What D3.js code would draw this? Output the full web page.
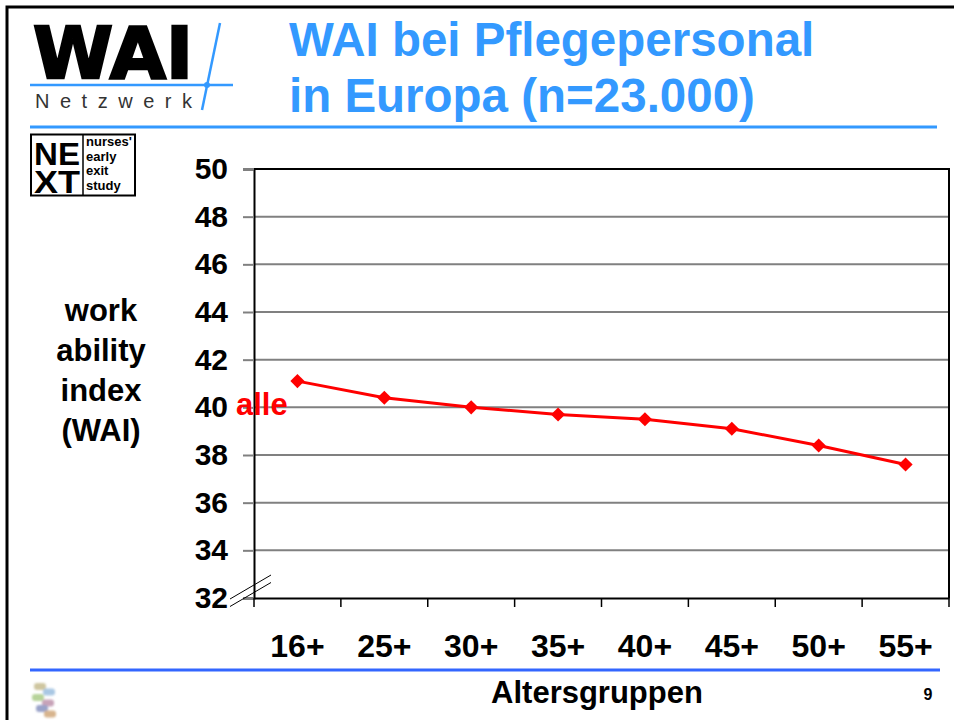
<!DOCTYPE html>
<html lang="de">
  <head>
    <meta charset="utf-8" />
    <title>WAI bei Pflegepersonal in Europa</title>
    <style>
      body {
        margin: 0;
        background: #fff;
      }
      svg {
        display: block;
        font-family: Arial, "Liberation Sans", sans-serif;
      }
      .grid line {
        stroke: #808080;
        stroke-width: 2px;
      }
      .tick text {
        font-weight: bold;
      }
    </style>
  </head>
  <body>
    <svg width="954" height="720"></svg>

    <script src="https://d3js.org/d3.v7.min.js"></script>
    <script>
      // chart data
      const ageGroups = ["16+", "25+", "30+", "35+", "40+", "45+", "50+", "55+"];
      const waiAll = [41.1, 40.4, 40.0, 39.7, 39.5, 39.1, 38.4, 37.6];
      const yTicks = [32, 34, 36, 38, 40, 42, 44, 46, 48, 50];
      const yTitle = ["work", "ability", "index", "(WAI)"];
      const seriesName = "alle";

      const svg = d3.select("svg");
      const blue = "#3399ff";

      // plot area
      const plotL = 254,
        plotR = 949,
        plotT = 169,
        plotB = 598;

      const x = d3.scaleBand().domain(ageGroups).range([plotL, plotR]);
      const y = d3.scaleLinear().domain([32, 50]).range([plotB, plotT]);

      // slide frame
      svg
        .append("rect")
        .attr("x", 7)
        .attr("y", 7)
        .attr("width", 980)
        .attr("height", 740)
        .attr("fill", "none")
        .attr("stroke", "#000")
        .attr("stroke-width", 3);

      // --- header: WAI Netzwerk logo ---
      const logo = svg.append("g");
      logo
        .append("text")
        .attr("x", 33)
        .attr("y", 78)
        .attr("font-family", "DejaVu Sans, sans-serif")
        .attr("font-weight", "bold")
        .attr("font-size", 71)
        .attr("stroke", "#000")
        .attr("stroke-width", 2.5)
        .attr("textLength", 160)
        .attr("lengthAdjust", "spacingAndGlyphs")
        .text("WAI");
      logo
        .append("line")
        .attr("x1", 30)
        .attr("x2", 233)
        .attr("y1", 85)
        .attr("y2", 85)
        .attr("stroke", blue)
        .attr("stroke-width", 2.5);
      logo
        .append("line")
        .attr("x1", 220)
        .attr("y1", 23)
        .attr("x2", 202)
        .attr("y2", 110)
        .attr("stroke", blue)
        .attr("stroke-width", 2.5);
      logo
        .append("circle")
        .attr("cx", 207)
        .attr("cy", 85)
        .attr("r", 3)
        .attr("fill", blue);
      logo
        .append("text")
        .attr("x", 35)
        .attr("y", 108)
        .attr("font-size", 20)
        .attr("fill", "#333")
        .attr("textLength", 157)
        .attr("lengthAdjust", "spacing")
        .text("Netzwerk");

      // title
      svg
        .append("g")
        .attr("fill", blue)
        .attr("font-weight", "bold")
        .attr("font-size", 47.5)
        .selectAll("text")
        .data(["WAI bei Pflegepersonal", "in Europa (n=23.000)"])
        .join("text")
        .attr("x", 289)
        .attr("y", (d, i) => 56 + i * 56)
        .text((d) => d);

      svg
        .append("line")
        .attr("x1", 30)
        .attr("x2", 937)
        .attr("y1", 127)
        .attr("y2", 127)
        .attr("stroke", blue)
        .attr("stroke-width", 3);

      // NEXT logo box
      const next = svg.append("g");
      next
        .append("rect")
        .attr("x", 31)
        .attr("y", 134.5)
        .attr("width", 104)
        .attr("height", 61)
        .attr("fill", "none")
        .attr("stroke", "#000")
        .attr("stroke-width", 2);
      next
        .append("line")
        .attr("x1", 83)
        .attr("x2", 83)
        .attr("y1", 134.5)
        .attr("y2", 195.5)
        .attr("stroke", "#000")
        .attr("stroke-width", 1.5);
      next
        .selectAll("text.big")
        .data(["NE", "XT"])
        .join("text")
        .attr("class", "big")
        .attr("x", 34)
        .attr("y", (d, i) => 165 + i * 28)
        .attr("font-weight", "bold")
        .attr("font-size", 31)
        .attr("textLength", 46)
        .attr("lengthAdjust", "spacingAndGlyphs")
        .text((d) => d);
      next
        .selectAll("text.small")
        .data(["nurses'", "early", "exit", "study"])
        .join("text")
        .attr("class", "small")
        .attr("x", 86)
        .attr("y", (d, i) => 146 + i * 14.5)
        .attr("font-weight", "bold")
        .attr("font-size", 13)
        .text((d) => d);

      // --- chart ---
      // horizontal gridlines
      svg
        .append("g")
        .attr("class", "grid")
        .selectAll("line")
        .data(yTicks.filter((t) => t > 32 && t < 50))
        .join("line")
        .attr("x1", plotL)
        .attr("x2", plotR)
        .attr("y1", (d) => y(d))
        .attr("y2", (d) => y(d));

      // top + right frame of the plot
      svg
        .append("path")
        .attr("d", `M${plotL},${plotT}H${plotR}V${plotB}`)
        .attr("fill", "none")
        .attr("stroke", "#000")
        .attr("stroke-width", 2);

      // y axis
      const yAxis = svg
        .append("g")
        .attr("transform", `translate(${plotL},0)`)
        .call(
          d3.axisLeft(y).tickValues(yTicks).tickSize(11).tickPadding(15)
        );
      yAxis.select(".domain").attr("stroke", "#000").attr("stroke-width", 2);
      yAxis.selectAll(".tick line").attr("stroke", "#808080").attr("stroke-width", 2);
      yAxis
        .selectAll(".tick text")
        .attr("font-size", 30)
        .attr("font-family", "Arial, Liberation Sans, sans-serif")
        .attr("fill", "#000");

      // x axis: labels centred on bands, ticks on band edges
      const xAxis = svg
        .append("g")
        .attr("transform", `translate(0,${plotB})`)
        .call(d3.axisBottom(x).tickSize(0).tickPadding(36));
      xAxis.select(".domain").attr("stroke", "#000").attr("stroke-width", 2);
      xAxis
        .selectAll(".tick text")
        .attr("font-size", 32)
        .attr("font-family", "Arial, Liberation Sans, sans-serif")
        .attr("fill", "#000");

      const edges = ageGroups.map((c) => x(c)).concat([x.range()[1]]);
      svg
        .append("g")
        .selectAll("line")
        .data(edges)
        .join("line")
        .attr("x1", (d) => d)
        .attr("x2", (d) => d)
        .attr("y1", plotB)
        .attr("y2", plotB + 9)
        .attr("stroke", "#000")
        .attr("stroke-width", 1.5);

      // axis break marks
      svg
        .append("g")
        .selectAll("line")
        .data([0, 7.5])
        .join("line")
        .attr("x1", 230)
        .attr("y1", (d) => 599 + d)
        .attr("x2", 271)
        .attr("y2", (d) => 575 + d)
        .attr("stroke", "#000")
        .attr("stroke-width", 1);

      // y title
      svg
        .append("g")
        .attr("font-weight", "bold")
        .attr("font-size", 31)
        .attr("text-anchor", "middle")
        .selectAll("text")
        .data(yTitle)
        .join("text")
        .attr("x", 101)
        .attr("y", (d, i) => 321 + i * 40)
        .text((d) => d);

      // series line + diamonds
      const pts = ageGroups.map((c, i) => [x(c) + x.bandwidth() / 2, y(waiAll[i])]);
      svg
        .append("path")
        .datum(pts)
        .attr("d", d3.line())
        .attr("fill", "none")
        .attr("stroke", "#ff0000")
        .attr("stroke-width", 3);
      svg
        .append("g")
        .selectAll("path")
        .data(pts)
        .join("path")
        .attr("d", d3.symbol(d3.symbolSquare, 100))
        .attr("transform", (d) => `translate(${d[0]},${d[1]}) rotate(45)`)
        .attr("fill", "#ff0000");

      svg
        .append("text")
        .attr("x", 236)
        .attr("y", 415)
        .attr("fill", "#ff0000")
        .attr("font-weight", "bold")
        .attr("font-size", 31)
        .text(seriesName);

      // --- footer ---
      svg
        .append("line")
        .attr("x1", 30)
        .attr("x2", 940)
        .attr("y1", 670)
        .attr("y2", 670)
        .attr("stroke", "#3366ff")
        .attr("stroke-width", 3);

      svg
        .append("text")
        .attr("x", 597)
        .attr("y", 703)
        .attr("text-anchor", "middle")
        .attr("font-weight", "bold")
        .attr("font-size", 31)
        .text("Altersgruppen");

      svg
        .append("text")
        .attr("x", 928)
        .attr("y", 700)
        .attr("text-anchor", "middle")
        .attr("font-weight", "bold")
        .attr("font-size", 16)
        .text("9");

      // small blurry emblem bottom left
      const defs = svg.append("defs");
      defs
        .append("filter")
        .attr("id", "soft")
        .append("feGaussianBlur")
        .attr("stdDeviation", 1.2);
      const emblem = svg
        .append("g")
        .attr("transform", "translate(30,683)")
        .attr("filter", "url(#soft)");
      const emblemColors = ["#cfc6a0", "#a9c7e3", "#b7d39a", "#c7a3b8", "#9aa3c9", "#d7b48d"];
      emblem
        .selectAll("rect")
        .data(emblemColors)
        .join("rect")
        .attr("x", (d, i) => [4, 13, 2, 12, 6, 14][i])
        .attr("y", (d, i) => i * 5.5)
        .attr("width", 12)
        .attr("height", 7)
        .attr("rx", 3)
        .attr("fill", (d) => d);
    </script>
  </body>
</html>
